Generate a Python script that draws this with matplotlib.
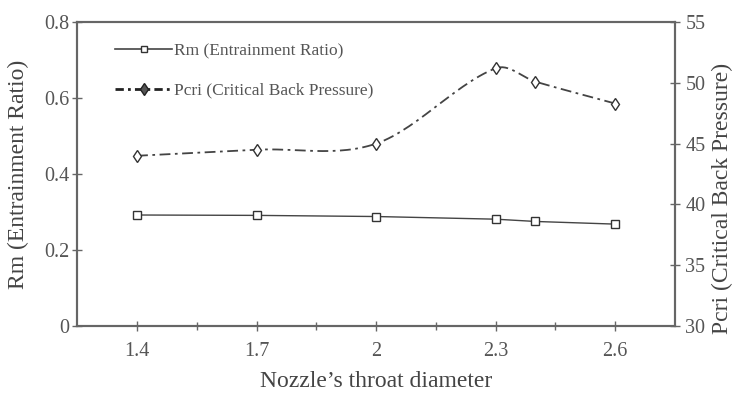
import numpy as np
import matplotlib
matplotlib.use("Agg")
import matplotlib.pyplot as plt
from matplotlib.lines import Line2D

plt.rcParams['font.family'] = ['Liberation Serif', 'DejaVu Serif']

# data
diameter = [1.4, 1.7, 2.0, 2.3, 2.4, 2.6]
rm = [0.292, 0.291, 0.288, 0.281, 0.275, 0.268]
pcri = [44.0, 44.5, 45.0, 51.2, 50.1, 48.3]
xticks = [1.4, 1.7, 2.0, 2.3, 2.6]
xticklabels = ['1.4', '1.7', '2', '2.3', '2.6']

grey = '#555555'


def smooth(x, y, n=30):
    # Catmull-Rom style curve through the points, only for drawing the line
    x = np.asarray(x, float)
    y = np.asarray(y, float)
    m = np.zeros_like(y)
    m[1:-1] = (y[2:] - y[:-2]) / (x[2:] - x[:-2])
    m[0] = (y[1] - y[0]) / (x[1] - x[0])
    m[-1] = (y[-1] - y[-2]) / (x[-1] - x[-2])
    xs, ys = [], []
    for i in range(len(x) - 1):
        h = x[i + 1] - x[i]
        t = np.linspace(0, 1, n)
        h00 = 2 * t**3 - 3 * t**2 + 1
        h10 = t**3 - 2 * t**2 + t
        h01 = -2 * t**3 + 3 * t**2
        h11 = t**3 - t**2
        xs.append(x[i] + t * h)
        ys.append(h00 * y[i] + h10 * h * m[i] + h01 * y[i + 1] + h11 * h * m[i + 1])
    return np.concatenate(xs), np.concatenate(ys)


fig, ax = plt.subplots(figsize=(7.36, 3.95), dpi=100)
fig.subplots_adjust(left=0.105, right=0.917, top=0.944, bottom=0.175)
ax2 = ax.twinx()

ax.plot(diameter, rm, color='#444444', lw=1.0, marker='s', ms=5.5,
        mfc='white', mec='#333333', mew=1.0)

sx, sy = smooth(diameter, pcri)
ax2.plot(sx, sy, color='#444444', lw=1.3, ls=(0, (6, 2.5, 1.5, 2.5)))
ax2.plot(diameter, pcri, ls='none', marker='d', ms=6,
         mfc='white', mec='#333333', mew=1.0)

ax.set_xlim(1.25, 2.75)
ax.set_ylim(0, 0.8)
ax2.set_ylim(30, 55)
ax.set_xticks(xticks)
ax.set_xticklabels(xticklabels)
ax.set_xticks([1.55, 1.85, 2.15, 2.45], minor=True)
ax.set_yticks([0, 0.2, 0.4, 0.6, 0.8])
ax.set_yticklabels(['0', '0.2', '0.4', '0.6', '0.8'])
ax2.set_yticks([30, 35, 40, 45, 50, 55])

for a in (ax, ax2):
    for s in a.spines.values():
        s.set_color('#666666')
        s.set_linewidth(1.5)
    a.tick_params(direction='inout', length=7, width=1.0, colors='#666666',
                  labelcolor=grey, labelsize=14.5)
ax.tick_params(axis='x', which='minor', direction='inout', length=6,
               width=1.0, colors='#666666')
ax.tick_params(axis='x', pad=8)
ax.tick_params(axis='y', pad=2)
ax2.tick_params(axis='y', pad=4)

ax.set_xlabel('Nozzle\u2019s throat diameter', fontsize=17, color='#444444',
              labelpad=7)
ax.set_ylabel('Rm (Entrainment Ratio)', fontsize=17, color='#444444')
ax.yaxis.set_label_coords(-0.08, 0.5)
ax2.set_ylabel('Pcri (Critical Back Pressure)', fontsize=17,
               color='#444444', rotation=90)
ax2.yaxis.set_label_coords(1.062, 0.42)

handles = [
    Line2D([], [], color='#444444', lw=1.2, marker='s', ms=5,
           mfc='white', mec='#333333'),
    Line2D([], [], color='#222222', lw=2.0, ls=(0, (3, 1.5, 1, 1.5)),
           marker='d', ms=6, mfc='#555555', mec='#222222'),
]
ax.legend(handles, ['Rm (Entrainment Ratio)', 'Pcri (Critical Back Pressure)'],
          loc='upper left', bbox_to_anchor=(0.037, 0.983), frameon=False,
          fontsize=12.5, labelcolor=grey, handlelength=3.3, handletextpad=0.1,
          labelspacing=1.35)

fig.savefig('out.png', dpi=100)
